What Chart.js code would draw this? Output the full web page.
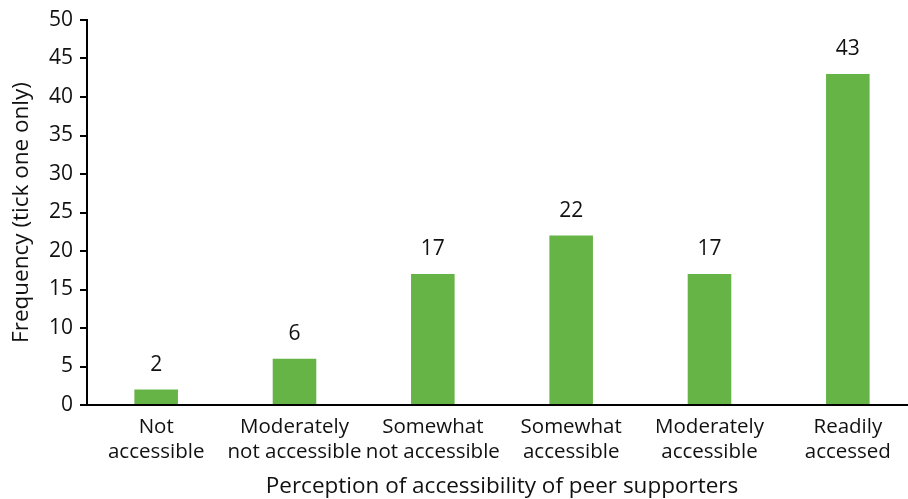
<!DOCTYPE html>
<html>
<head>
<meta charset="utf-8">
<script src="https://cdn.jsdelivr.net/npm/chart.js@4/dist/chart.umd.min.js"></script>
<style>
  html, body { margin: 0; padding: 0; background: #fff; overflow: hidden; }
  #wrap { width: 920px; height: 499px; position: relative; }
</style>
</head>
<body>
<div id="wrap"><canvas id="accessChart"></canvas></div>
<script>
const categories = [
  ["Not", "accessible"],
  ["Moderately", "not accessible"],
  ["Somewhat", "not accessible"],
  ["Somewhat", "accessible"],
  ["Moderately", "accessible"],
  ["Readily", "accessed"],
];
const frequencies = [2, 6, 17, 22, 17, 43];
const yTicks = { min: 0, max: 50, step: 5 };

const xTitle = "Perception of accessibility of peer supporters";
const yTitle = "Frequency (tick one only)";

const barColor = "#66b446";
const textColor = "#111111";
const fontFamily = "'Open Sans', 'Noto Sans', sans-serif";

// draws the value above each bar
const valueLabels = {
  id: "valueLabels",
  afterDatasetsDraw(chart) {
    const ctx = chart.ctx;
    const meta = chart.getDatasetMeta(0);
    ctx.save();
    ctx.font = `21px ${fontFamily}`;
    ctx.fillStyle = textColor;
    ctx.textAlign = "center";
    ctx.textBaseline = "alphabetic";
    meta.data.forEach((bar, i) => {
      ctx.fillText(String(chart.data.datasets[0].data[i]), bar.x, bar.y - 19);
    });
    ctx.restore();
  },
};

new Chart(document.getElementById("accessChart"), {
  type: "bar",
  data: {
    labels: categories,
    datasets: [
      {
        data: frequencies,
        backgroundColor: barColor,
        borderWidth: 0,
        barPercentage: 0.315,
        categoryPercentage: 1,
      },
    ],
  },
  options: {
    responsive: true,
    maintainAspectRatio: false,
    animation: false,
    layout: { padding: { top: 20, right: 3, bottom: 0, left: 0 } },
    plugins: {
      legend: { display: false },
      tooltip: { enabled: false },
    },
    scales: {
      x: {
        grid: { display: true, drawOnChartArea: false, drawTicks: false },
        border: { display: true, color: "#000", width: 2 },
        ticks: {
          color: textColor,
          padding: 9,
          maxRotation: 0,
          autoSkip: false,
          font: { family: fontFamily, size: 20.5, lineHeight: 1.24 },
        },
        title: {
          display: true,
          text: xTitle,
          color: textColor,
          padding: { top: 0, bottom: 0 },
          font: { family: fontFamily, size: 22.5, lineHeight: 1.13 },
        },
        afterFit(scale) {
          scale.height = 94;
        },
      },
      y: {
        min: yTicks.min,
        max: yTicks.max,
        grid: { drawOnChartArea: false, drawTicks: true, tickLength: 7, color: "#000", lineWidth: 2 },
        border: { display: true, color: "#000", width: 2 },
        ticks: {
          stepSize: yTicks.step,
          color: textColor,
          padding: 7,
          font: { family: fontFamily, size: 21 },
        },
        title: {
          display: true,
          text: yTitle,
          color: textColor,
          padding: { top: 8.5, bottom: 0 },
          font: { family: fontFamily, size: 22.5, lineHeight: 1.13 },
        },
        afterFit(scale) {
          scale.width = 87;
        },
      },
    },
  },
  plugins: [valueLabels],
});
</script>
</body>
</html>
